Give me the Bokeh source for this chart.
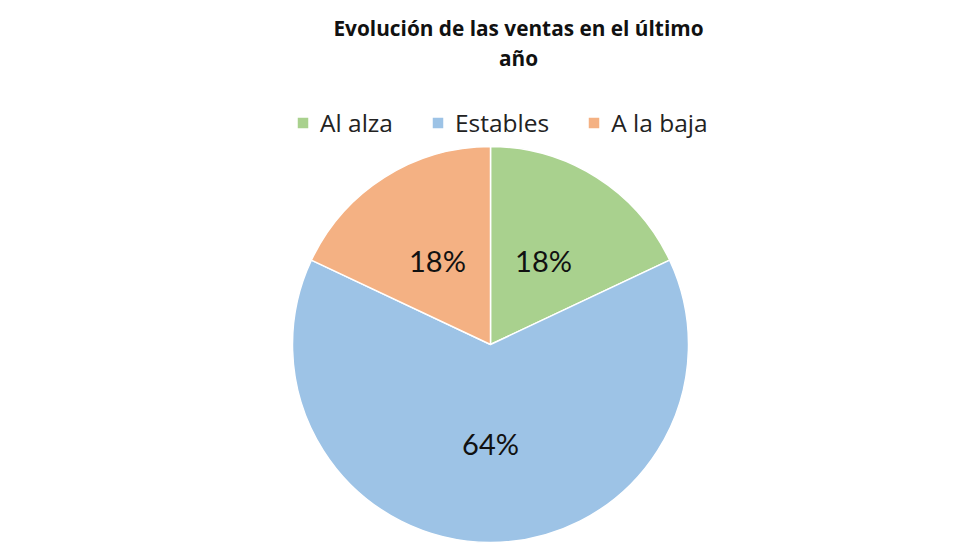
import math
from bokeh.plotting import figure
from bokeh.models import ColumnDataSource, Label, Legend, LegendItem
from bokeh.core.properties import value
from bokeh.embed import file_html
from bokeh.resources import INLINE

categories = ["Al alza", "Estables", "A la baja"]
shares = [18, 64, 18]
colors = ["#A9D18E", "#9DC3E6", "#F4B183"]
title_lines = ["Evolución de las ventas en el último", "año"]

W, H = 980, 560
cx, cy, R = 490, 216, 198

total = sum(shares)
starts, ends, lx, ly, labels = [], [], [], [], []
a = math.pi / 2
for s in shares:
    sweep = s / total * 2 * math.pi
    starts.append(a)
    ends.append(a - sweep)
    mid = a - sweep / 2
    lx.append(cx + 0.5 * R * math.cos(mid))
    ly.append(cy + 0.5 * R * math.sin(mid))
    labels.append(f"{s}%")
    a -= sweep

src = ColumnDataSource(dict(cat=categories, start=starts, end=ends, color=colors,
                            lx=lx, ly=ly, lab=labels))

p = figure(width=W, height=H, x_range=(0, W), y_range=(0, H),
           output_backend="svg", toolbar_location=None, min_border=0)
p.axis.visible = False
p.grid.visible = False
p.outline_line_color = None

r = p.wedge(x=cx, y=cy, radius=R, start_angle="start", end_angle="end",
            direction="clock", fill_color="color", line_color="white",
            line_width=1.5, source=src)

p.text(x="lx", y="ly", text="lab", source=src, text_align="center",
       text_baseline="middle", text_font=value("Lato"), text_font_size="29px",
       text_color="#111111")

items = [LegendItem(label=c, renderers=[r], index=i) for i, c in enumerate(categories)]
legend = Legend(items=items, orientation="horizontal", location=(295, 421),
                label_text_font="Open Sans", label_text_font_size="24.5px",
                label_text_color="#222222", glyph_width=15, glyph_height=15,
                spacing=37, label_standoff=10, padding=0, margin=0,
                background_fill_alpha=0, border_line_color=None)
p.add_layout(legend)

for i, t in enumerate(title_lines):
    p.add_layout(Label(x=518, y=H - 27 - i * 30, x_units="screen", y_units="screen",
                       text=t, text_align="center", text_baseline="middle",
                       text_font="Open Sans", text_font_style="bold",
                       text_font_size="20.8px", text_color="#111111"))

open("out.html", "w").write(file_html(p, INLINE))
